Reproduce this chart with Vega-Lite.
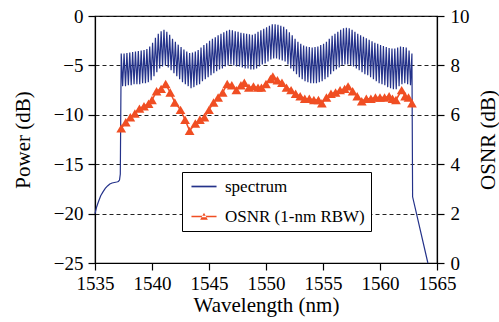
{
"$schema":"https://vega.github.io/schema/vega-lite/v6.json",
"width":342,"height":247,
"autosize":{"type":"none"},
"padding":{"left":95,"top":16,"right":62,"bottom":59},
"background":"white",
"datasets":{
"spec":[
{"wl":1535.0,"p":-20.0},{"wl":1535.15,"p":-19.3},{"wl":1535.3,"p":-18.8},{"wl":1535.5,"p":-18.2},{"wl":1535.7,"p":-17.8},{"wl":1535.9,"p":-17.45},{"wl":1536.1,"p":-17.2},{"wl":1536.3,"p":-17.0},{"wl":1536.5,"p":-16.9},{"wl":1536.7,"p":-16.85},{"wl":1536.9,"p":-16.8},{"wl":1537.05,"p":-16.75},{"wl":1537.15,"p":-16.6},{"wl":1537.22,"p":-16.0},
{"wl":1537.30,"p":-3.8},{"wl":1537.425,"p":-7.1},
{"wl":1537.55,"p":-3.8},{"wl":1537.675,"p":-7.1},
{"wl":1537.80,"p":-3.75},{"wl":1537.925,"p":-7.0},
{"wl":1538.05,"p":-3.7},{"wl":1538.175,"p":-7.0},
{"wl":1538.30,"p":-3.65},{"wl":1538.425,"p":-6.9},
{"wl":1538.55,"p":-3.6},{"wl":1538.675,"p":-6.9},
{"wl":1538.80,"p":-3.55},{"wl":1538.925,"p":-6.9},
{"wl":1539.05,"p":-3.5},{"wl":1539.175,"p":-6.8},
{"wl":1539.30,"p":-3.45},{"wl":1539.425,"p":-6.8},
{"wl":1539.55,"p":-3.35},{"wl":1539.675,"p":-6.7},
{"wl":1539.80,"p":-3.1},{"wl":1539.925,"p":-6.5},
{"wl":1540.05,"p":-2.7},{"wl":1540.175,"p":-6.1},
{"wl":1540.30,"p":-2.2},{"wl":1540.425,"p":-5.7},
{"wl":1540.55,"p":-1.8},{"wl":1540.675,"p":-5.3},
{"wl":1540.80,"p":-1.55},{"wl":1540.925,"p":-5.1},
{"wl":1541.05,"p":-1.4},{"wl":1541.175,"p":-5.0},
{"wl":1541.30,"p":-1.6},{"wl":1541.425,"p":-5.2},
{"wl":1541.55,"p":-1.9},{"wl":1541.675,"p":-5.5},
{"wl":1541.80,"p":-2.3},{"wl":1541.925,"p":-5.8},
{"wl":1542.05,"p":-2.6},{"wl":1542.175,"p":-6.1},
{"wl":1542.30,"p":-2.9},{"wl":1542.425,"p":-6.4},
{"wl":1542.55,"p":-3.15},{"wl":1542.675,"p":-6.7},
{"wl":1542.80,"p":-3.4},{"wl":1542.925,"p":-6.9},
{"wl":1543.05,"p":-3.6},{"wl":1543.175,"p":-7.1},
{"wl":1543.30,"p":-3.75},{"wl":1543.425,"p":-7.3},
{"wl":1543.55,"p":-3.7},{"wl":1543.675,"p":-7.2},
{"wl":1543.80,"p":-3.6},{"wl":1543.925,"p":-7.0},
{"wl":1544.05,"p":-3.45},{"wl":1544.175,"p":-6.9},
{"wl":1544.30,"p":-3.2},{"wl":1544.425,"p":-6.6},
{"wl":1544.55,"p":-2.95},{"wl":1544.675,"p":-6.4},
{"wl":1544.80,"p":-2.75},{"wl":1544.925,"p":-6.2},
{"wl":1545.05,"p":-2.5},{"wl":1545.175,"p":-6.0},
{"wl":1545.30,"p":-2.3},{"wl":1545.425,"p":-5.8},
{"wl":1545.55,"p":-2.15},{"wl":1545.675,"p":-5.6},
{"wl":1545.80,"p":-1.95},{"wl":1545.925,"p":-5.4},
{"wl":1546.05,"p":-1.8},{"wl":1546.175,"p":-5.3},
{"wl":1546.30,"p":-1.65},{"wl":1546.425,"p":-5.1},
{"wl":1546.55,"p":-1.5},{"wl":1546.675,"p":-5.0},
{"wl":1546.80,"p":-1.4},{"wl":1546.925,"p":-4.9},
{"wl":1547.05,"p":-1.45},{"wl":1547.175,"p":-5.0},
{"wl":1547.30,"p":-1.55},{"wl":1547.425,"p":-5.1},
{"wl":1547.55,"p":-1.6},{"wl":1547.675,"p":-5.1},
{"wl":1547.80,"p":-1.7},{"wl":1547.925,"p":-5.2},
{"wl":1548.05,"p":-1.75},{"wl":1548.175,"p":-5.3},
{"wl":1548.30,"p":-1.8},{"wl":1548.425,"p":-5.3},
{"wl":1548.55,"p":-1.85},{"wl":1548.675,"p":-5.4},
{"wl":1548.80,"p":-1.9},{"wl":1548.925,"p":-5.4},
{"wl":1549.05,"p":-1.8},{"wl":1549.175,"p":-5.3},
{"wl":1549.30,"p":-1.6},{"wl":1549.425,"p":-5.1},
{"wl":1549.55,"p":-1.45},{"wl":1549.675,"p":-4.9},
{"wl":1549.80,"p":-1.3},{"wl":1549.925,"p":-4.8},
{"wl":1550.05,"p":-1.15},{"wl":1550.175,"p":-4.6},
{"wl":1550.30,"p":-1.0},{"wl":1550.425,"p":-4.4},
{"wl":1550.55,"p":-0.85},{"wl":1550.675,"p":-4.3},
{"wl":1550.80,"p":-0.85},{"wl":1550.925,"p":-4.3},
{"wl":1551.05,"p":-0.9},{"wl":1551.175,"p":-4.4},
{"wl":1551.30,"p":-1.0},{"wl":1551.425,"p":-4.5},
{"wl":1551.55,"p":-1.1},{"wl":1551.675,"p":-4.6},
{"wl":1551.80,"p":-1.35},{"wl":1551.925,"p":-4.9},
{"wl":1552.05,"p":-1.65},{"wl":1552.175,"p":-5.3},
{"wl":1552.30,"p":-1.95},{"wl":1552.425,"p":-5.6},
{"wl":1552.55,"p":-2.3},{"wl":1552.675,"p":-5.9},
{"wl":1552.80,"p":-2.6},{"wl":1552.925,"p":-6.2},
{"wl":1553.05,"p":-2.8},{"wl":1553.175,"p":-6.4},
{"wl":1553.30,"p":-3.0},{"wl":1553.425,"p":-6.6},
{"wl":1553.55,"p":-3.1},{"wl":1553.675,"p":-6.7},
{"wl":1553.80,"p":-3.15},{"wl":1553.925,"p":-6.8},
{"wl":1554.05,"p":-3.2},{"wl":1554.175,"p":-6.8},
{"wl":1554.30,"p":-3.15},{"wl":1554.425,"p":-6.8},
{"wl":1554.55,"p":-3.1},{"wl":1554.675,"p":-6.7},
{"wl":1554.80,"p":-2.95},{"wl":1554.925,"p":-6.6},
{"wl":1555.05,"p":-2.8},{"wl":1555.175,"p":-6.4},
{"wl":1555.30,"p":-2.6},{"wl":1555.425,"p":-6.2},
{"wl":1555.55,"p":-2.3},{"wl":1555.675,"p":-5.9},
{"wl":1555.80,"p":-2.0},{"wl":1555.925,"p":-5.6},
{"wl":1556.05,"p":-1.8},{"wl":1556.175,"p":-5.4},
{"wl":1556.30,"p":-1.6},{"wl":1556.425,"p":-5.2},
{"wl":1556.55,"p":-1.4},{"wl":1556.675,"p":-5.0},
{"wl":1556.80,"p":-1.25},{"wl":1556.925,"p":-4.9},
{"wl":1557.05,"p":-1.2},{"wl":1557.175,"p":-4.9},
{"wl":1557.30,"p":-1.25},{"wl":1557.425,"p":-5.0},
{"wl":1557.55,"p":-1.4},{"wl":1557.675,"p":-5.1},
{"wl":1557.80,"p":-1.6},{"wl":1557.925,"p":-5.3},
{"wl":1558.05,"p":-1.8},{"wl":1558.175,"p":-5.5},
{"wl":1558.30,"p":-1.95},{"wl":1558.425,"p":-5.7},
{"wl":1558.55,"p":-2.1},{"wl":1558.675,"p":-5.9},
{"wl":1558.80,"p":-2.25},{"wl":1558.925,"p":-6.0},
{"wl":1559.05,"p":-2.4},{"wl":1559.175,"p":-6.2},
{"wl":1559.30,"p":-2.55},{"wl":1559.425,"p":-6.4},
{"wl":1559.55,"p":-2.7},{"wl":1559.675,"p":-6.6},
{"wl":1559.80,"p":-2.8},{"wl":1559.925,"p":-6.8},
{"wl":1560.05,"p":-2.95},{"wl":1560.175,"p":-6.9},
{"wl":1560.30,"p":-3.05},{"wl":1560.425,"p":-7.0},
{"wl":1560.55,"p":-3.15},{"wl":1560.675,"p":-7.2},
{"wl":1560.80,"p":-3.25},{"wl":1560.925,"p":-7.3},
{"wl":1561.05,"p":-3.3},{"wl":1561.175,"p":-7.4},
{"wl":1561.30,"p":-3.3},{"wl":1561.425,"p":-7.4},
{"wl":1561.55,"p":-3.2},{"wl":1561.675,"p":-7.1},
{"wl":1561.80,"p":-3.1},{"wl":1561.925,"p":-6.9},
{"wl":1562.05,"p":-3.15},{"wl":1562.175,"p":-6.8},
{"wl":1562.30,"p":-3.2},{"wl":1562.425,"p":-6.9},
{"wl":1562.55,"p":-3.5},{"wl":1562.675,"p":-7.0},
{"wl":1562.80,"p":-3.8},
{"wl":1562.86,"p":-18.3},{"wl":1564.2,"p":-25.0}
],
"osnr":[
{"wl":1537.3,"osnr":5.45,"series":"OSNR (1-nm RBW)"},
{"wl":1537.7,"osnr":5.7,"series":"OSNR (1-nm RBW)"},
{"wl":1538.1,"osnr":5.9,"series":"OSNR (1-nm RBW)"},
{"wl":1538.5,"osnr":6.05,"series":"OSNR (1-nm RBW)"},
{"wl":1538.9,"osnr":6.25,"series":"OSNR (1-nm RBW)"},
{"wl":1539.3,"osnr":6.35,"series":"OSNR (1-nm RBW)"},
{"wl":1539.7,"osnr":6.45,"series":"OSNR (1-nm RBW)"},
{"wl":1540.0,"osnr":6.6,"series":"OSNR (1-nm RBW)"},
{"wl":1540.4,"osnr":6.95,"series":"OSNR (1-nm RBW)"},
{"wl":1540.8,"osnr":7.05,"series":"OSNR (1-nm RBW)"},
{"wl":1541.2,"osnr":7.25,"series":"OSNR (1-nm RBW)"},
{"wl":1541.6,"osnr":6.9,"series":"OSNR (1-nm RBW)"},
{"wl":1542.0,"osnr":6.5,"series":"OSNR (1-nm RBW)"},
{"wl":1542.5,"osnr":6.2,"series":"OSNR (1-nm RBW)"},
{"wl":1542.9,"osnr":5.8,"series":"OSNR (1-nm RBW)"},
{"wl":1543.3,"osnr":5.35,"series":"OSNR (1-nm RBW)"},
{"wl":1543.8,"osnr":5.65,"series":"OSNR (1-nm RBW)"},
{"wl":1544.2,"osnr":5.8,"series":"OSNR (1-nm RBW)"},
{"wl":1544.6,"osnr":5.9,"series":"OSNR (1-nm RBW)"},
{"wl":1545.0,"osnr":6.2,"series":"OSNR (1-nm RBW)"},
{"wl":1545.4,"osnr":6.5,"series":"OSNR (1-nm RBW)"},
{"wl":1545.8,"osnr":6.7,"series":"OSNR (1-nm RBW)"},
{"wl":1546.2,"osnr":6.9,"series":"OSNR (1-nm RBW)"},
{"wl":1546.6,"osnr":7.25,"series":"OSNR (1-nm RBW)"},
{"wl":1547.0,"osnr":7.2,"series":"OSNR (1-nm RBW)"},
{"wl":1547.4,"osnr":7.0,"series":"OSNR (1-nm RBW)"},
{"wl":1547.8,"osnr":7.2,"series":"OSNR (1-nm RBW)"},
{"wl":1548.1,"osnr":7.3,"series":"OSNR (1-nm RBW)"},
{"wl":1548.5,"osnr":7.1,"series":"OSNR (1-nm RBW)"},
{"wl":1548.9,"osnr":7.15,"series":"OSNR (1-nm RBW)"},
{"wl":1549.3,"osnr":7.1,"series":"OSNR (1-nm RBW)"},
{"wl":1549.6,"osnr":7.1,"series":"OSNR (1-nm RBW)"},
{"wl":1550.0,"osnr":7.25,"series":"OSNR (1-nm RBW)"},
{"wl":1550.4,"osnr":7.45,"series":"OSNR (1-nm RBW)"},
{"wl":1550.6,"osnr":7.55,"series":"OSNR (1-nm RBW)"},
{"wl":1551.0,"osnr":7.4,"series":"OSNR (1-nm RBW)"},
{"wl":1551.4,"osnr":7.3,"series":"OSNR (1-nm RBW)"},
{"wl":1551.8,"osnr":7.1,"series":"OSNR (1-nm RBW)"},
{"wl":1552.2,"osnr":7.0,"series":"OSNR (1-nm RBW)"},
{"wl":1552.6,"osnr":6.85,"series":"OSNR (1-nm RBW)"},
{"wl":1553.0,"osnr":6.75,"series":"OSNR (1-nm RBW)"},
{"wl":1553.4,"osnr":6.65,"series":"OSNR (1-nm RBW)"},
{"wl":1553.8,"osnr":6.65,"series":"OSNR (1-nm RBW)"},
{"wl":1554.2,"osnr":6.6,"series":"OSNR (1-nm RBW)"},
{"wl":1554.6,"osnr":6.6,"series":"OSNR (1-nm RBW)"},
{"wl":1554.9,"osnr":6.47,"series":"OSNR (1-nm RBW)"},
{"wl":1555.3,"osnr":6.7,"series":"OSNR (1-nm RBW)"},
{"wl":1555.7,"osnr":6.85,"series":"OSNR (1-nm RBW)"},
{"wl":1556.1,"osnr":6.9,"series":"OSNR (1-nm RBW)"},
{"wl":1556.5,"osnr":7.0,"series":"OSNR (1-nm RBW)"},
{"wl":1556.9,"osnr":7.05,"series":"OSNR (1-nm RBW)"},
{"wl":1557.2,"osnr":7.15,"series":"OSNR (1-nm RBW)"},
{"wl":1557.6,"osnr":6.95,"series":"OSNR (1-nm RBW)"},
{"wl":1558.0,"osnr":6.75,"series":"OSNR (1-nm RBW)"},
{"wl":1558.4,"osnr":6.55,"series":"OSNR (1-nm RBW)"},
{"wl":1558.8,"osnr":6.65,"series":"OSNR (1-nm RBW)"},
{"wl":1559.2,"osnr":6.65,"series":"OSNR (1-nm RBW)"},
{"wl":1559.6,"osnr":6.7,"series":"OSNR (1-nm RBW)"},
{"wl":1560.0,"osnr":6.7,"series":"OSNR (1-nm RBW)"},
{"wl":1560.4,"osnr":6.7,"series":"OSNR (1-nm RBW)"},
{"wl":1560.8,"osnr":6.75,"series":"OSNR (1-nm RBW)"},
{"wl":1561.1,"osnr":6.65,"series":"OSNR (1-nm RBW)"},
{"wl":1561.4,"osnr":6.6,"series":"OSNR (1-nm RBW)"},
{"wl":1561.9,"osnr":7.0,"series":"OSNR (1-nm RBW)"},
{"wl":1562.2,"osnr":6.75,"series":"OSNR (1-nm RBW)"},
{"wl":1562.5,"osnr":6.7,"series":"OSNR (1-nm RBW)"},
{"wl":1562.8,"osnr":6.47,"series":"OSNR (1-nm RBW)"}
]
},
"encoding":{
"x":{"field":"wl","type":"quantitative","scale":{"domain":[1535,1565],"nice":false,"zero":false},
"axis":{"title":"Wavelength (nm)","values":[1535,1540,1545,1550,1555,1560,1565],"format":"d","grid":false,"labelFlush":false,"labelPadding":4,"titleX":171,"titleY":48,"titleBaseline":"alphabetic","titleAlign":"center"}}
},
"layer":[
{"data":{"name":"spec"},
 "mark":{"type":"line","color":"#24328a","strokeWidth":1.2},
 "encoding":{"y":{"field":"p","type":"quantitative","scale":{"domain":[-25,0],"nice":false,"zero":false},
   "axis":{"title":"Power (dB)","values":[-25,-20,-15,-10,-5,0],"format":"d","grid":true,"gridDash":[4,3],"gridColor":"#222222","gridWidth":1,"labelPadding":5,"titleX":-66,"titleY":123.5,"titleAngle":-90,"titleBaseline":"alphabetic","titleAlign":"center"}}}},
{"data":{"name":"osnr"},
 "encoding":{"y":{"field":"osnr","type":"quantitative","scale":{"domain":[0,10],"nice":false},
   "axis":{"orient":"right","title":"OSNR (dB)","values":[0,2,4,6,8,10],"format":"d","grid":false,"labelPadding":6,"titleX":57,"titleY":123.5,"titleAngle":-90,"titleBaseline":"alphabetic","titleAlign":"center"}}},
 "layer":[
  {"mark":{"type":"line","color":"#f04e23","strokeWidth":1.5}},
  {"mark":{"type":"point","filled":true,"opacity":1,"color":"#f04e23","shape":"triangle-up","size":95}},
  {"transform":[{"filter":"datum.osnr < 0"}],
   "mark":{"type":"point","filled":true},
   "encoding":{
    "color":{"field":"series","type":"nominal",
     "scale":{"domain":["spectrum","OSNR (1-nm RBW)"],"range":["#24328a","#f04e23"]},
     "legend":{"title":null,"orient":"none","legendX":87,"legendY":156,"symbolSize":196,"padding":6,"rowPadding":12,"symbolOffset":7.5,"labelOffset":12.5,
       "strokeColor":"black","fillColor":"white","labelFont":"Liberation Serif","labelFontSize":17,"labelColor":"black","symbolOpacity":1}},
    "shape":{"field":"series","type":"nominal",
     "scale":{"domain":["spectrum","OSNR (1-nm RBW)"],"range":["M-1.79,-0.12L1.79,-0.12L1.79,0.12L-1.79,0.12Z","M-1.79,-0.1L1.79,-0.1L1.79,0.1L-1.79,0.1ZM-0.55,0.45L0.55,0.45L0,-0.55Z"]},
     "legend":{"title":null,"orient":"none","legendX":87,"legendY":156,"symbolSize":196,"padding":6,"rowPadding":12,"symbolOffset":7.5,"labelOffset":12.5,
       "strokeColor":"black","fillColor":"white","labelFont":"Liberation Serif","labelFontSize":17,"labelColor":"black","symbolOpacity":1}}}}
 ]}
],
"resolve":{"scale":{"y":"independent"}},
"config":{
 "font":"Liberation Serif",
 "view":{"stroke":"black","strokeWidth":1.2},
 "axis":{"domainColor":"black","tickColor":"black","labelColor":"black","titleColor":"black","titleFontWeight":"normal","tickSize":7,"domainWidth":1.2,"tickWidth":1.2,"labelFont":"Liberation Serif","labelFontSize":19,"titleFont":"Liberation Serif","titleFontSize":21}
}
}
